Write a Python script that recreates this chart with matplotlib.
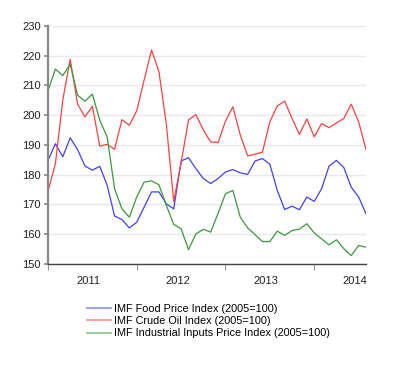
import matplotlib.pyplot as plt
import numpy as np

plt.rcParams['font.family'] = ['Liberation Sans', 'DejaVu Sans']

# monthly values, Jan 2011 .. Aug 2014
food = [184.8, 190.4, 186.0, 192.4, 188.4, 182.9, 181.5, 182.8, 176.4, 166.1, 164.9, 162.1,
        164.0, 169.1, 174.2, 174.2, 170.2, 168.5, 184.6, 185.7, 182.0, 178.7, 177.0, 178.7,
        180.9, 181.7, 180.6, 180.1, 184.6, 185.4, 183.5, 174.7, 168.3, 169.4, 168.2, 172.5,
        171.0, 175.3, 182.9, 184.8, 182.4, 175.8, 172.5, 166.9]
oil = [174.4, 183.7, 205.1, 218.8, 203.7, 199.4, 203.0, 189.6, 190.2, 188.5, 198.5, 196.6,
       201.5, 211.8, 221.9, 214.6, 197.0, 171.0, 184.0, 198.4, 200.2, 195.0, 191.0, 190.8,
       198.0, 202.8, 193.3, 186.3, 186.9, 187.6, 197.8, 203.1, 204.7, 198.9, 193.5, 198.7,
       192.7, 197.2, 195.8, 197.4, 198.9, 203.7, 197.8, 188.4]
industrial = [208.2, 215.5, 213.3, 217.1, 206.7, 204.7, 207.1, 198.3, 192.7, 175.3, 168.5, 165.7,
              172.5, 177.5, 177.9, 176.6, 169.7, 163.3, 161.8, 154.8, 160.1, 161.6, 160.7, 167.0,
              173.6, 174.7, 165.7, 162.1, 159.8, 157.5, 157.5, 161.0, 159.6, 161.2, 161.7, 163.5,
              160.4, 158.4, 156.4, 158.1, 155.1, 152.8, 156.2, 155.6]
years = ['2011', '2012', '2013', '2014']

x = np.arange(len(food))

fig = plt.figure(figsize=(4.0, 3.65), dpi=100)
ax = fig.add_axes([0.12, 0.277, 0.795, 0.652])

ax.plot(x, food, color='#4040ff', lw=0.9, label='IMF Food Price Index (2005=100)')
ax.plot(x, oil, color='#ff4040', lw=0.9, label='IMF Crude Oil Index (2005=100)')
ax.plot(x, industrial, color='#3a9a3a', lw=0.9, label='IMF Industrial Inputs Price Index (2005=100)')

ax.set_xlim(0, len(food) - 1)
ax.set_ylim(150, 230)
ax.set_yticks(range(150, 231, 10))
ax.yaxis.grid(True, color='#e8e8e8', lw=1)
ax.set_axisbelow(True)

ax.set_xticks([0, 12, 24, 36])
ax.set_xticklabels([])
ax.set_xticks([5.5, 17.5, 29.5, 41.5], minor=True)
ax.set_xticklabels(years, minor=True)
ax.tick_params(axis='x', which='major', length=4, color='#999999')
ax.tick_params(axis='x', which='minor', length=0, pad=9, labelsize=8, labelcolor='#222222')
ax.tick_params(axis='y', length=3, color='#888888', width=1.2, labelsize=8, labelcolor='#222222', pad=2)

for s in ['top', 'right']:
    ax.spines[s].set_visible(False)
ax.spines['left'].set_color('#888888')
ax.spines['left'].set_linewidth(1.6)
ax.spines['bottom'].set_color('#444444')
ax.spines['bottom'].set_linewidth(1.0)

leg = fig.legend(loc='upper left', bbox_to_anchor=(0.2175, 0.168), frameon=False,
                 fontsize=7.85, handlelength=2.2, handletextpad=0.3, labelspacing=0.22,
                 borderaxespad=0, borderpad=0)
for h in leg.get_lines():
    h.set_alpha(0.6)
    h.set_linewidth(1.2)

plt.savefig('out.png')
